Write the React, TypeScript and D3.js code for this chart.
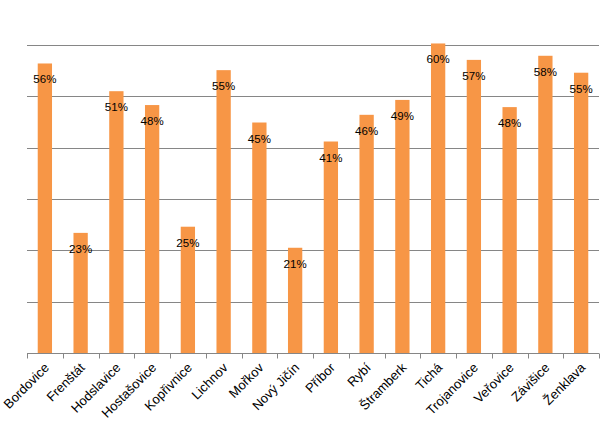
import * as d3 from "d3";
import { useEffect, useRef } from "react";

const categories = [
  "Bordovice", "Frenštát", "Hodslavice", "Hostašovice", "Kopřivnice", "Lichnov",
  "Mořkov", "Nový Jičín", "Příbor", "Rybí", "Štramberk", "Tichá",
  "Trojanovice", "Veřovice", "Závišice", "Ženklava",
];
// share in % (labels show rounded values)
const values = [
  56.4, 23.4, 51.0, 48.3, 24.6, 55.1,
  44.9, 20.5, 41.2, 46.4, 49.3, 60.3,
  57.1, 47.9, 57.9, 54.6,
];
const gridTicks = [0, 10, 20, 30, 40, 50, 60];

const width = 610;
const height = 425;

export default function App() {
  const svgRef = useRef<SVGSVGElement>(null);

  useEffect(() => {
    document.body.style.margin = "0";
    const svg = d3.select(svgRef.current);
    svg.selectAll("*").remove();

    const x = d3.scaleBand<string>()
      .domain(categories)
      .range([27, 599])
      .paddingInner(0.6)
      .paddingOuter(0.3);
    const y = d3.scaleLinear().domain([0, 60]).range([353, 45]);

    // gridlines
    svg.append("g")
      .selectAll("line")
      .data(gridTicks.slice(1))
      .join("line")
      .attr("x1", 27)
      .attr("x2", 599)
      .attr("y1", d => Math.round(y(d)) + 0.5)
      .attr("y2", d => Math.round(y(d)) + 0.5)
      .attr("stroke", "#868686")
      .attr("stroke-width", 1);

    // bars
    svg.append("g")
      .selectAll("rect")
      .data(values)
      .join("rect")
      .attr("x", (_, i) => x(categories[i])!)
      .attr("y", d => y(d))
      .attr("width", x.bandwidth())
      .attr("height", d => y(0) - y(d))
      .attr("fill", "#F79646");

    // x axis
    const step = x.step();
    const axisY = Math.round(y(0)) + 0.5;
    svg.append("line")
      .attr("x1", 27).attr("x2", 599)
      .attr("y1", axisY).attr("y2", axisY)
      .attr("stroke", "#868686");
    svg.append("g")
      .selectAll("line")
      .data(d3.range(categories.length + 1))
      .join("line")
      .attr("x1", i => Math.round(27 + i * step) + 0.5)
      .attr("x2", i => Math.round(27 + i * step) + 0.5)
      .attr("y1", axisY)
      .attr("y2", axisY + 5)
      .attr("stroke", "#868686");

    // value labels
    svg.append("g")
      .selectAll("text")
      .data(values)
      .join("text")
      .attr("x", (_, i) => x(categories[i])! + x.bandwidth() / 2)
      .attr("y", d => y(d) + 20)
      .attr("text-anchor", "middle")
      .attr("font-family", "'Liberation Sans', Arial, sans-serif")
      .attr("font-size", "11.5px")
      .attr("fill", "#000")
      .text(d => `${Math.round(d)}%`);

    // category labels
    svg.append("g")
      .selectAll("text")
      .data(categories)
      .join("text")
      .attr("transform", d => {
        const cx = x(d)! + x.bandwidth() / 2 + 5;
        return `translate(${cx},${axisY + 15}) rotate(-45)`;
      })
      .attr("text-anchor", "end")
      .attr("font-family", "'Liberation Sans', Arial, sans-serif")
      .attr("font-size", "13px")
      .attr("fill", "#000")
      .text(d => d);
  }, []);

  return <svg ref={svgRef} width={width} height={height} style={{ display: "block", background: "#fff" }} />;
}
